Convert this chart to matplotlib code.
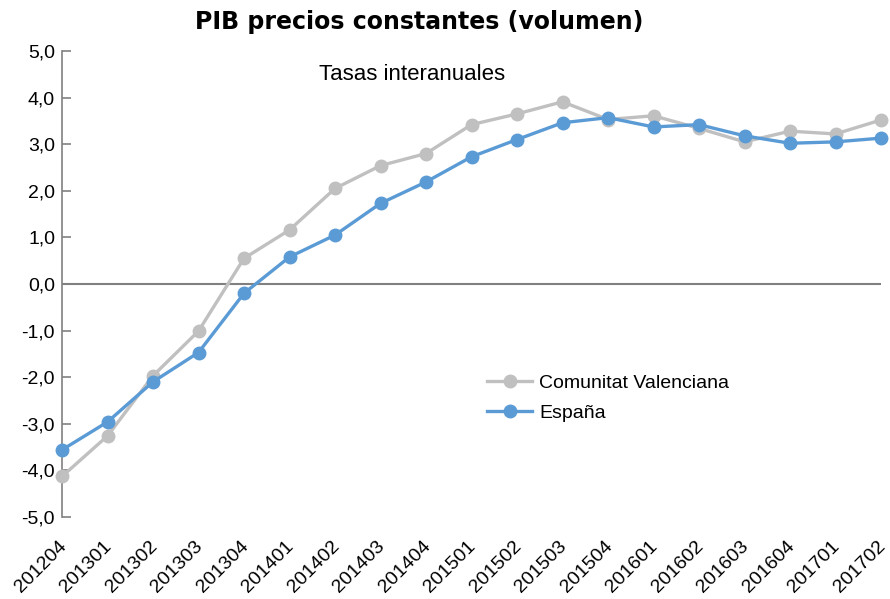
import matplotlib
matplotlib.use('Agg')
import matplotlib.pyplot as plt
import matplotlib.transforms as mtransforms
from matplotlib.ticker import FuncFormatter

plt.rcParams['font.family'] = ['Liberation Sans', 'DejaVu Sans']

# datos
periodos = ['201204', '201301', '201302', '201303', '201304', '201401', '201402',
            '201403', '201404', '201501', '201502', '201503', '201504', '201601',
            '201602', '201603', '201604', '201701', '201702']
cv = [-4.13, -3.26, -1.97, -1.01, 0.55, 1.16, 2.05, 2.54, 2.80, 3.42, 3.65,
      3.91, 3.53, 3.61, 3.34, 3.05, 3.28, 3.22, 3.52]
espana = [-3.56, -2.96, -2.10, -1.47, -0.20, 0.58, 1.05, 1.73, 2.19, 2.73, 3.10,
          3.46, 3.57, 3.37, 3.42, 3.18, 3.02, 3.05, 3.13]

GRIS = '#c0c0c0'
AZUL = '#5b9bd5'

fig = plt.figure(figsize=(8.9, 5.99), dpi=100)
ax = fig.add_axes([62 / 890, 1 - 517 / 599, (881 - 62) / 890, (517 - 51) / 599])

x = list(range(len(periodos)))
ax.axhline(0, color='#808080', linewidth=1.5, zorder=1)
ax.plot(x, cv, color=GRIS, linewidth=2.4, marker='o', markersize=9,
        label='Comunitat Valenciana', clip_on=False, zorder=3)
ax.plot(x, espana, color=AZUL, linewidth=2.4, marker='o', markersize=9,
        label='España', clip_on=False, zorder=4)

ax.set_xlim(0, len(periodos) - 1)
ax.set_ylim(-5, 5)
ax.set_yticks(range(-5, 6))
ax.yaxis.set_major_formatter(FuncFormatter(lambda v, p: f'{v:.1f}'.replace('.', ',')))
ax.set_xticks(x)
ax.set_xticklabels(periodos, rotation=45, ha='right', rotation_mode='anchor')

for s in ['top', 'right', 'bottom']:
    ax.spines[s].set_visible(False)
ax.spines['left'].set_color('#808080')
ax.spines['left'].set_linewidth(1.2)
ax.tick_params(axis='y', direction='in', color='#808080', length=6.5, width=1.2,
               labelsize=14, pad=5)
ax.tick_params(axis='x', length=0, labelsize=14, pad=15)

# desplazar un poco las etiquetas del eje x a la izquierda
offset = mtransforms.ScaledTranslation(-3 / 72, 0, fig.dpi_scale_trans)
for lbl in ax.get_xticklabels():
    lbl.set_transform(lbl.get_transform() + offset)

fig.text(419 / 890, 1 - 22 / 599, 'PIB precios constantes (volumen)', ha='center', va='center',
         fontsize=17, fontweight='bold', family='DejaVu Sans')
fig.text(412 / 890, 1 - 75 / 599, 'Tasas interanuales', ha='center', va='center', fontsize=16)

ax.legend(loc='upper left', bbox_to_anchor=(470 / 890, 1 - 357 / 599), bbox_transform=fig.transFigure,
          frameon=False, fontsize=14, handlelength=2.3, handletextpad=0.35, labelspacing=0.62)

fig.savefig('out.png', dpi=100)
